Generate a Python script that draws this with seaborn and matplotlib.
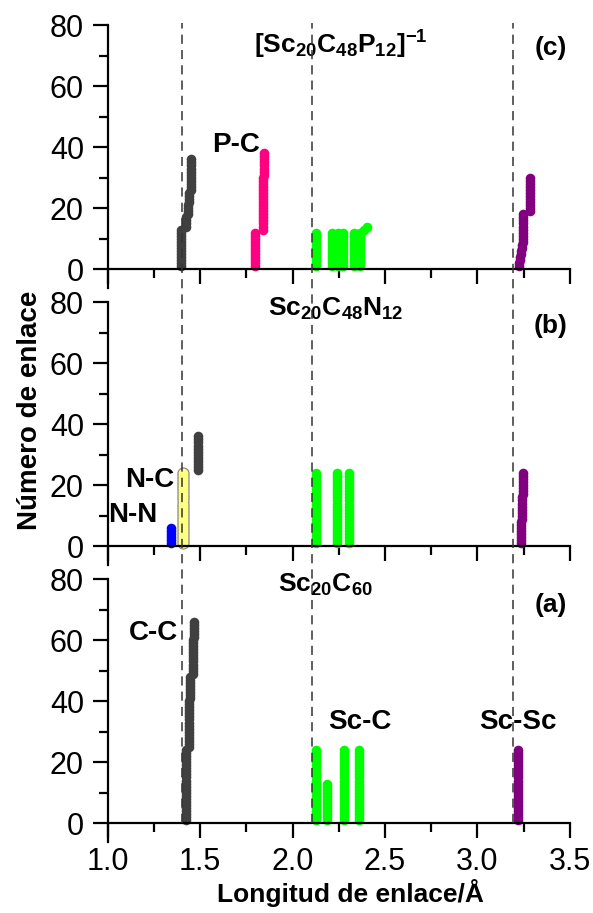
import numpy as np
import pandas as pd
import matplotlib
matplotlib.use("Agg")
import matplotlib.pyplot as plt
import seaborn as sns
from matplotlib.ticker import MultipleLocator
from matplotlib.transforms import blended_transform_factory
from matplotlib.lines import Line2D

# ---------------- data (bond length runs: value, multiplicity) ----------------
# Panel (c) [Sc20C48P12]-1
c_cc_len = [1.397, 1.425, 1.433, 1.440, 1.452]
c_cc_cnt = [13, 4, 4, 4, 11]
c_pc_len = [1.798, 1.838, 1.842, 1.846]
c_pc_cnt = [12, 9, 9, 8]
c_scc_len = [[2.128], [2.215], [2.245], [2.274], [2.334], [2.366, 2.385, 2.400]]
c_scc_cnt = [[12], [12], [12], [12], [12], [12, 1, 1]]
c_scsc_len = [3.224, 3.230, 3.236, 3.240, 3.244, 3.282]
c_scsc_cnt = [2, 2, 2, 2, 10, 12]

# Panel (b) Sc20C48N12
b_nn_len = [1.345]
b_nn_cnt = [6]
b_cc_len = [1.407, 1.491]
b_cc_cnt = [24, 12]
b_nc_len = [1.407]
b_nc_cnt = [24]
b_scc_len = [[2.129], [2.240], [2.308]]
b_scc_cnt = [[24], [24], [24]]
b_scsc_len = [3.236, 3.240, 3.244]
b_scsc_cnt = [8, 8, 8]

# Panel (a) Sc20C60
a_cc_len = [1.425, 1.438, 1.443, 1.448, 1.460, 1.467]
a_cc_cnt = [24, 8, 8, 8, 12, 6]
a_scc_len = [[2.128], [2.186], [2.276], [2.357]]
a_scc_cnt = [[24], [13], [24], [24]]
a_scsc_len = [3.220]
a_scsc_cnt = [24]

ref_lines = [1.401, 2.105, 3.192]
panel_titles = [r"[Sc$_{20}$C$_{48}$P$_{12}$]$^{-1}$", r"Sc$_{20}$C$_{48}$N$_{12}$", r"Sc$_{20}$C$_{60}$"]
panel_letters = ["(c)", "(b)", "(a)"]
y_ticks = [0, 20, 40, 60, 80]
x_ticks = [1.0, 1.5, 2.0, 2.5, 3.0, 3.5]

COL = {"C-C": "#404040", "P-C": "#FF0080", "Sc-C": "#00FF00",
       "Sc-Sc": "#800080", "N-N": "#0000FF", "N-C": "#FFFF80"}


def expand(lengths, counts, start=1):
    x = np.repeat(lengths, counts)
    y = np.arange(start, start + len(x))
    return pd.DataFrame({"length": x, "number": y})


sns.set_theme(style="ticks")
plt.rcParams["font.family"] = ["Liberation Sans", "DejaVu Sans"]
plt.rcParams["mathtext.fontset"] = "custom"
plt.rcParams["mathtext.rm"] = "Liberation Sans:bold"
plt.rcParams["mathtext.it"] = "Liberation Sans:bold"
plt.rcParams["mathtext.bf"] = "Liberation Sans:bold"
for k in ("text.color", "axes.labelcolor", "xtick.color", "ytick.color", "axes.edgecolor"):
    plt.rcParams[k] = "black"

fig = plt.figure(figsize=(5.93, 9.13), dpi=100)
left, width, height = 0.1813, 0.7799, 0.2876
ax_c = fig.add_axes([left, 0.6850, width, height])
ax_b = fig.add_axes([left, 0.3816, width, height])
ax_a = fig.add_axes([left, 0.0782, width, height])
axes = [ax_c, ax_b, ax_a]

S = 48


def plot_group(ax, df, color, s=S, z=3, **kw):
    sns.scatterplot(data=df, x="length", y="number", ax=ax, color=color, s=s,
                    linewidth=0, legend=False, zorder=z, **kw)


# panel c
plot_group(ax_c, expand(c_cc_len, c_cc_cnt), COL["C-C"])
plot_group(ax_c, expand(c_pc_len, c_pc_cnt), COL["P-C"])
for L, C in zip(c_scc_len, c_scc_cnt):
    plot_group(ax_c, expand(L, C), COL["Sc-C"])
plot_group(ax_c, expand(c_scsc_len, c_scsc_cnt), COL["Sc-Sc"])

# panel b
plot_group(ax_b, expand(b_nn_len, b_nn_cnt), COL["N-N"])
plot_group(ax_b, expand(b_cc_len, b_cc_cnt), COL["C-C"])
nc = expand(b_nc_len, b_nc_cnt)
plot_group(ax_b, nc, "#8a8a8a", s=78, z=4)      # outline of the N-C bar
plot_group(ax_b, nc, COL["N-C"], s=50, z=5)
for L, C in zip(b_scc_len, b_scc_cnt):
    plot_group(ax_b, expand(L, C), COL["Sc-C"])
plot_group(ax_b, expand(b_scsc_len, b_scsc_cnt), COL["Sc-Sc"])

# panel a
plot_group(ax_a, expand(a_cc_len, a_cc_cnt), COL["C-C"])
for L, C in zip(a_scc_len, a_scc_cnt):
    plot_group(ax_a, expand(L, C), COL["Sc-C"])
plot_group(ax_a, expand(a_scsc_len, a_scsc_cnt), COL["Sc-Sc"])

for i, ax in enumerate(axes):
    ax.set_xlim(1.0, 3.5)
    ax.set_ylim(-6, 80)
    ax.set_xlabel("")
    ax.set_ylabel("")
    ax.spines["top"].set_visible(False)
    ax.spines["right"].set_visible(False)
    ax.spines["bottom"].set_position(("data", 0))
    for sp in ("left", "bottom"):
        ax.spines[sp].set_linewidth(1.6)
        ax.spines[sp].set_color("black")
        ax.spines[sp].set_zorder(6)
    ax.set_yticks(y_ticks)
    ax.yaxis.set_minor_locator(MultipleLocator(10))
    ax.set_xticks(x_ticks)
    ax.xaxis.set_minor_locator(MultipleLocator(0.25))
    ax.tick_params(which="major", direction="out", length=11, width=1.6, colors="black",
                   labelsize=22, pad=6)
    ax.tick_params(which="minor", direction="out", length=6.5, width=1.6, colors="black")
    ax.set_facecolor("none")
    if i < 2:
        ax.tick_params(axis="x", labelbottom=False)
    else:
        ax.set_xticklabels([f"{v:.1f}" for v in x_ticks])

FS = 19
# titles and labels
ax_c.text(2.262, 70.5, panel_titles[0], ha="center", va="baseline", fontsize=FS, fontweight="bold")
ax_b.text(2.231, 75.6, panel_titles[1], ha="center", va="baseline", fontsize=FS, fontweight="bold")
ax_a.text(2.177, 75.8, panel_titles[2], ha="center", va="baseline", fontsize=FS, fontweight="bold")
for ax, lab, y in zip(axes, panel_letters, [72.5, 72.2, 71.5]):
    ax.text(3.394, y, lab, ha="center", va="center", fontsize=FS, fontweight="bold")

ax_c.text(1.694, 40.7, "P-C", ha="center", va="center", fontsize=20, fontweight="bold")
ax_b.text(1.230, 21.7, "N-C", ha="center", va="center", fontsize=20, fontweight="bold")
ax_b.text(1.138, 10.3, "N-N", ha="center", va="center", fontsize=20, fontweight="bold")
ax_a.text(1.246, 62.3, "C-C", ha="center", va="center", fontsize=20, fontweight="bold")
ax_a.text(2.366, 33.2, "Sc-C", ha="center", va="center", fontsize=20, fontweight="bold")
ax_a.text(3.221, 33.2, "Sc-Sc", ha="center", va="center", fontsize=20, fontweight="bold")

# dashed reference lines across all panels
trans = blended_transform_factory(ax_a.transData, fig.transFigure)
for xv in ref_lines:
    fig.add_artist(Line2D([xv, xv], [0.0982, 0.9748], transform=trans, color="#333333",
                          linewidth=1.1, linestyle=(0, (6.0, 4.0)), zorder=1))

fig.text(30 / 593, 1 - 410 / 913, "Número de enlace", rotation=90, ha="center", va="center",
         fontsize=20, fontweight="bold")
fig.text(350 / 593, 1 - 893 / 913, "Longitud de enlace/Å", ha="center", va="center",
         fontsize=19, fontweight="bold")

fig.savefig("out.png", dpi=100, facecolor="white")
